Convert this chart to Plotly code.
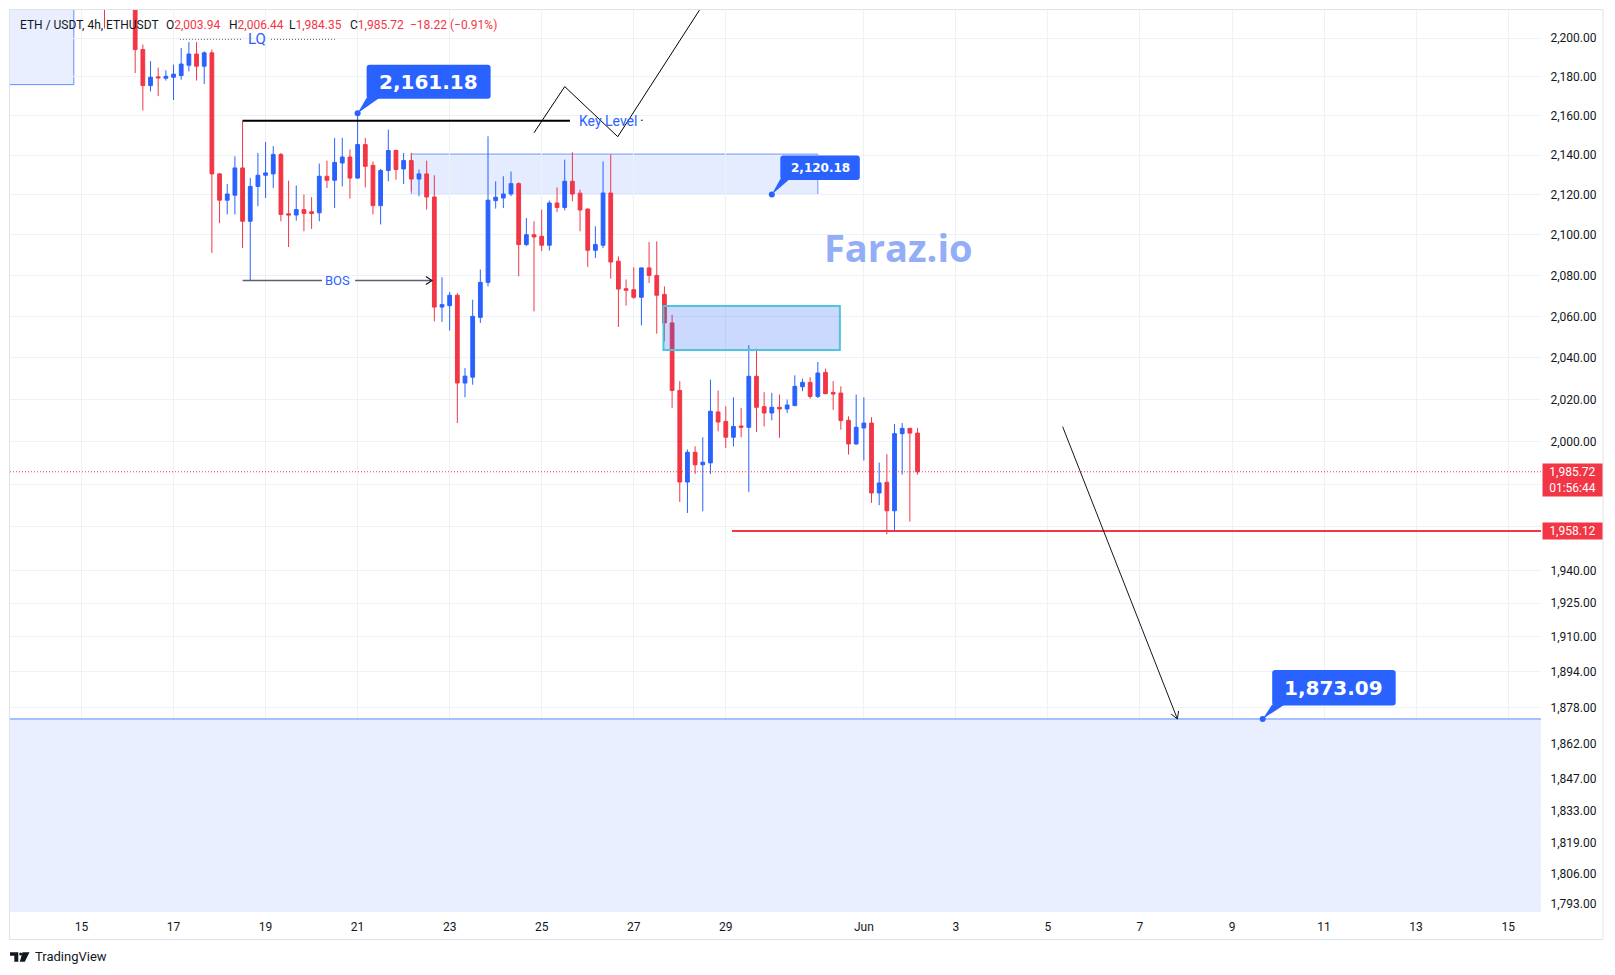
import numpy as np
import pandas as pd
import plotly.graph_objects as go

# ---------------- data ----------------
candle_start = "2023-05-15 12:00"
candle_freq = "4h"
opens = [2232, 2218, 2230, 2238, 2232, 2194.0, 2175.4, 2179.9, 2179.2, 2179.7,
         2180.6, 2185.9, 2191.7, 2185.4, 2192.3, 2130.5, 2117.3, 2119.8, 2133.5, 2106.8,
         2124.2, 2129.8, 2130.5, 2140.3, 2110.5, 2109.9, 2112.6, 2111.5, 2111.0, 2129.3,
         2127.3, 2136.0, 2139.0, 2128.4, 2145.3, 2134.8, 2114.6, 2132.2, 2142.3, 2133.0,
         2137.2, 2127.9, 2130.5, 2118.9, 2064.5, 2065.2, 2070.3, 2027.8, 2030.6, 2059.5,
         2076.6, 2117.1, 2118.4, 2120.4, 2125.6, 2095.2, 2100.1, 2099.3, 2094.9, 2115.9,
         2113.7, 2126.8, 2120.8, 2112.9, 2092.4, 2094.9, 2120.9, 2087.0, 2073.5, 2073.0,
         2069.3, 2083.7, 2080.0, 2070.7, 2056.8, 2024.2, 1980.9, 1994.9, 1989.0, 1989.9,
         2014.0, 2009.5, 2002.0, 2007.3, 2006.7, 2031.0, 2016.5, 2013.5, 2016.2, 2015.4,
         2017.0, 2026.0, 2028.1, 2021.4, 2032.9, 2023.3, 2023.0, 2010.0, 1998.8, 2006.4,
         2008.7, 1975.8, 1980.8, 1967.5, 2003.7, 2006.2, 2003.94]
highs = [2240, 2236, 2245, 2250, 2240, 2196.6, 2188.0, 2184.7, 2183.3, 2186.2,
         2194.8, 2197.9, 2197.9, 2193.1, 2194.0, 2131.0, 2125.4, 2139.4, 2157.4, 2128.4,
         2141.1, 2146.6, 2144.5, 2141.1, 2127.1, 2124.7, 2120.1, 2118.8, 2135.7, 2137.2,
         2148.7, 2148.7, 2142.8, 2161.18, 2148.7, 2136.8, 2133.0, 2152.9, 2142.8, 2141.1,
         2141.1, 2132.7, 2137.2, 2129.8, 2079.1, 2071.9, 2071.3, 2035.0, 2068.1, 2082.9,
         2149.5, 2126.8, 2129.3, 2131.7, 2126.3, 2108.4, 2106.8, 2112.6, 2117.1, 2123.7,
         2137.7, 2141.4, 2122.6, 2113.1, 2104.3, 2136.8, 2140.3, 2089.4, 2078.0, 2084.0,
         2084.0, 2096.5, 2096.8, 2074.6, 2060.8, 2028.7, 1996.2, 1997.7, 2002.0, 2029.4,
         2024.2, 2016.7, 2021.0, 2015.9, 2046.0, 2044.3, 2023.4, 2023.1, 2022.3, 2019.9,
         2031.5, 2029.9, 2030.6, 2037.9, 2034.7, 2028.7, 2026.2, 2011.9, 2022.3, 2021.0,
         2011.5, 1990.0, 1994.0, 2008.3, 2008.7, 2006.4, 2006.44]
lows = [2205, 2216, 2222, 2226, 2181.9, 2162.6, 2172.4, 2170.0, 2178.0, 2168.0,
        2178.4, 2182.7, 2178.0, 2176.2, 2091.1, 2105.8, 2110.2, 2110.2, 2093.5, 2077.5,
        2114.3, 2118.4, 2123.4, 2106.8, 2094.0, 2107.1, 2101.8, 2103.0, 2106.8, 2123.4,
        2113.4, 2124.2, 2118.1, 2128.0, 2123.7, 2110.2, 2105.2, 2126.8, 2127.6, 2125.4,
        2121.7, 2119.3, 2112.6, 2057.6, 2057.3, 2053.1, 2008.7, 2021.0, 2027.0, 2056.8,
        2074.6, 2113.1, 2113.4, 2119.3, 2079.6, 2094.5, 2062.4, 2092.0, 2092.3, 2111.4,
        2112.2, 2116.8, 2101.8, 2084.2, 2088.6, 2093.5, 2078.4, 2054.8, 2065.2, 2068.5,
        2055.6, 2076.3, 2051.6, 2047.9, 2015.9, 1971.6, 1966.5, 1984.7, 1967.3, 1984.7,
        2004.8, 1996.9, 1997.7, 2002.0, 1976.3, 2004.5, 2007.1, 2010.0, 2001.7, 2013.5,
        2016.7, 2023.9, 2020.3, 2020.6, 2022.5, 2015.0, 2005.6, 1993.8, 1998.5, 1991.0,
        1971.2, 1970.1, 1956.6, 1958.6, 1984.4, 1962.5, 1984.35]
closes = [2218, 2230, 2238, 2232, 2194.0, 2175.4, 2179.7, 2179.4, 2180.2, 2181.3,
          2186.5, 2191.7, 2185.4, 2192.3, 2130.5, 2117.3, 2120.4, 2133.5, 2106.8, 2124.2,
          2129.8, 2131.0, 2140.3, 2110.2, 2109.9, 2112.6, 2110.7, 2110.7, 2129.3, 2127.3,
          2136.3, 2139.0, 2128.4, 2145.3, 2134.3, 2114.6, 2132.2, 2142.3, 2132.7, 2137.2,
          2127.9, 2130.5, 2118.9, 2064.5, 2065.7, 2070.3, 2027.8, 2031.1, 2060.0, 2076.6,
          2117.3, 2118.8, 2120.4, 2125.6, 2095.2, 2100.1, 2099.0, 2094.9, 2115.9, 2113.7,
          2126.8, 2120.4, 2112.4, 2092.4, 2095.2, 2120.9, 2086.6, 2073.3, 2072.7, 2069.3,
          2083.7, 2080.0, 2070.3, 2056.8, 2024.2, 1980.9, 1994.9, 1989.0, 1990.2, 2014.3,
          2009.2, 2002.0, 2007.1, 2006.7, 2031.0, 2016.2, 2013.5, 2016.2, 2015.4, 2017.3,
          2026.2, 2028.1, 2021.4, 2032.6, 2022.7, 2022.5, 2009.9, 1998.8, 2006.7, 2008.7,
          1975.8, 1980.5, 1967.5, 2003.7, 2006.2, 2003.94, 1985.72]

x_tick_dates = ["2023-05-15", "2023-05-17", "2023-05-19", "2023-05-21", "2023-05-23",
                "2023-05-25", "2023-05-27", "2023-05-29", "2023-06-01", "2023-06-03",
                "2023-06-05", "2023-06-07", "2023-06-09", "2023-06-11", "2023-06-13",
                "2023-06-15"]
x_tick_text = ["15", "17", "19", "21", "23", "25", "27", "29", "Jun", "3", "5", "7",
               "9", "11", "13", "15"]
y_tick_values = [2200, 2180, 2160, 2140, 2120, 2100, 2080, 2060, 2040, 2020, 2000,
                 1980, 1960, 1940, 1925, 1910, 1894, 1878, 1862, 1847, 1833, 1819,
                 1806, 1793]
# ticks whose labels sit under the price tags on the axis
y_ticks_hidden = [1980, 1960]

header_symbol = "ETH / USDT, 4h, ETHUSDT"
header_ohlc = [("O", "2,003.94"), ("H", "2,006.44"), ("L", "1,984.35"), ("C", "1,985.72")]
header_change = "\u221218.22 (\u22120.91%)"

last_price = 1985.72
countdown = "01:56:44"
support_level = 1958.12
key_level = 2157.4
bos_level = 2077.5
lq_level = 2199.3
high_note = 2161.18
zone_note = 2120.18
target_note = 1873.09
zone1_low, zone1_high = 2120.18, 2140.5
zone2_low, zone2_high = 2043.7, 2065.0
top_zone_low = 2175.9
arrow_start_price = 2007.0
zigzag_prices = [2151.3, 2174.9, 2149.3, 2214.5]
zigzag_times = ["2023-05-24 20:00", "2023-05-25 12:00", "2023-05-26 15:40", "2023-05-28 10:15"]
note_times = ["2023-05-21 00:00", "2023-05-30 00:00", "2023-06-09 16:00"]
note_prices = [high_note, zone_note, target_note]

# ---------------- styling ----------------
UP = "#2962ff"
DOWN = "#f23645"
BLUE = "#2962ff"
TXT = "#131722"
GRID = "#eef1f6"
FONT = "Roboto"

PX_L, PX_R, PX_T, PX_B = 10, 1541, 10, 912


def pxx(px):
    return (px - PX_L) / (PX_R - PX_L)


def pxy(py):
    return (PX_B - py) / (PX_B - PX_T)


times = pd.date_range(candle_start, periods=len(opens), freq=candle_freq)

fig = go.Figure()
fig.add_trace(go.Candlestick(
    x=times, open=opens, high=highs, low=lows, close=closes,
    increasing=dict(line=dict(color=UP, width=1), fillcolor=UP),
    decreasing=dict(line=dict(color=DOWN, width=1), fillcolor=DOWN),
    whiskerwidth=0, showlegend=False, hoverinfo="skip",
))
# anchor dots of the price notes
fig.add_trace(go.Scatter(
    x=note_times, y=note_prices, mode="markers", hoverinfo="skip", showlegend=False,
    marker=dict(size=6, color=BLUE, line=dict(width=0)), cliponaxis=False,
))

shapes = []
annotations = []


def hline(x0, x1, y, color, width=1, dash="solid", xref="x"):
    shapes.append(dict(type="line", xref=xref, yref="y", x0=x0, x1=x1, y0=y, y1=y,
                       line=dict(color=color, width=width, dash=dash), layer="above"))


def seg(x0, y0, x1, y1, color, width=1):
    shapes.append(dict(type="line", xref="x", yref="y", x0=x0, x1=x1, y0=y0, y1=y1,
                       line=dict(color=color, width=width), layer="above"))


def pix_path(xa, ya, path, color=None, fill=None, width=1):
    d = dict(type="path", xref="x", yref="y", xsizemode="pixel", ysizemode="pixel",
             xanchor=xa, yanchor=ya, path=path, layer="above",
             line=dict(color=color or "rgba(0,0,0,0)", width=width if color else 0))
    if fill:
        d["fillcolor"] = fill
    shapes.append(d)


def text(x, price, s, size, color, xanchor="center", bold=False, family=FONT,
         xshift=0, yshift=0):
    annotations.append(dict(x=x, y=np.log10(price), xref="x", yref="y", text=s,
                            showarrow=False, xanchor=xanchor, yanchor="middle",
                            xshift=xshift, yshift=yshift,
                            font=dict(family=family, size=size, color=color,
                                      weight="bold" if bold else "normal")))


# zones
shapes.append(dict(type="rect", xref="x", yref="y", x0="2023-05-12", x1="2023-05-14 20:00",
                   y0=top_zone_low, y1=2300, fillcolor="rgba(41,98,255,0.10)",
                   line=dict(color="rgba(41,98,255,0.7)", width=1), layer="below"))
shapes.append(dict(type="rect", xref="x", yref="y", x0="2023-05-22 04:00", x1="2023-05-31 00:00",
                   y0=zone1_low, y1=zone1_high, fillcolor="rgba(41,98,255,0.12)",
                   line=dict(color="rgba(41,98,255,0.65)", width=1), layer="below"))
shapes.append(dict(type="rect", xref="x", yref="y", x0="2023-05-27 15:30", x1="2023-05-31 11:30",
                   y0=zone2_low, y1=zone2_high, fillcolor="rgba(41,98,255,0.24)",
                   line=dict(color="#50c4d8", width=2), layer="above"))
shapes.append(dict(type="rect", xref="paper", yref="y", x0=0, x1=1, y0=1700, y1=target_note,
                   fillcolor="rgba(41,98,255,0.10)", line=dict(width=0), layer="below"))
hline(0, 1, target_note, "rgba(41,98,255,0.75)", 1, xref="paper")

# price lines
hline(0, 1, last_price, DOWN, 1, dash="1px,2px", xref="paper")
hline("2023-05-29 03:15", "2023-06-30", support_level, DOWN, 2)

# key level
hline("2023-05-18 12:00", "2023-05-25 14:45", key_level, "#000000", 2)
text("2023-05-25 18:15", key_level, "Key Level", 14, BLUE, xanchor="left")
text("2023-05-27 04:10", key_level, "\u00b7", 14, TXT)

# zigzag
for i in range(len(zigzag_prices) - 1):
    seg(zigzag_times[i], zigzag_prices[i], zigzag_times[i + 1], zigzag_prices[i + 1], "#000000", 1)

# LQ
hline("2023-05-17 03:20", "2023-05-18 12:10", lq_level, "#5d606b", 1, dash="1px,2px")
hline("2023-05-19 02:50", "2023-05-20 12:10", lq_level, "#5d606b", 1, dash="1px,2px")
text("2023-05-18 19:30", lq_level, "LQ", 15, BLUE)

# BOS
hline("2023-05-18 12:00", "2023-05-20 05:25", bos_level, "#5d606b", 1.3)
hline("2023-05-20 22:40", "2023-05-22 14:45", bos_level, "#5d606b", 1.3)
pix_path("2023-05-22 14:45", bos_level, "M-6,4 L0,0 L-6,-4", color="#131722", width=1.2)
text("2023-05-20 13:45", bos_level, "BOS", 13, BLUE)

# projection arrow
seg("2023-06-05 07:40", arrow_start_price, "2023-06-07 19:30", target_note, "#131722", 1)
pix_path("2023-06-07 19:30", target_note, "M1.2,8 L0,0 L-6.3,5", color="#131722", width=1)


# callouts
def rrect(x0, x1, y0, y1, r):
    return (f"M{x0 + r},{y0} L{x1 - r},{y0} Q{x1},{y0} {x1},{y0 + r} L{x1},{y1 - r} "
            f"Q{x1},{y1} {x1 - r},{y1} L{x0 + r},{y1} Q{x0},{y1} {x0},{y1 - r} "
            f"L{x0},{y0 + r} Q{x0},{y0} {x0 + r},{y0} Z")


callout_boxes = [((9, 133, 14.5, 48.5), (9, 22), 20),
                 ((8.5, 88, 14.5, 39), (8.5, 18), 12),
                 ((9.5, 133, 13.5, 49), (9.5, 22), 20)]
for xa, price, ((bx0, bx1, by0, by1), (tx0, tx1), fs) in zip(note_times, note_prices, callout_boxes):
    pix_path(xa, price, rrect(bx0, bx1, by0, by1, 3), fill=BLUE)
    pix_path(xa, price, f"M0,0 L{tx0},{by0 + 1} L{tx1},{by0 + 1} Z", fill=BLUE)
    text(xa, price, f"{price:,.2f}", fs, "white", bold=True, family="DejaVu Sans",
         xshift=(bx0 + bx1) / 2, yshift=(by0 + by1) / 2)

# watermark
text("2023-06-01 17:50", 2094.0, "Faraz.io", 38, "#93adf7", bold=True, family="Open Sans")

# axis price labels
annotations.append(dict(xref="paper", yref="y", x=1, y=np.log10(last_price), xanchor="left",
                        yanchor="top", yshift=8.5, xshift=0.5,
                        text=f"{last_price:,.2f}<br>{countdown}", showarrow=False,
                        bgcolor=DOWN, width=55, height=28, borderpad=2, align="center",
                        font=dict(family=FONT, size=12, color="white")))
annotations.append(dict(xref="paper", yref="y", x=1, y=np.log10(support_level), xanchor="left",
                        yanchor="middle", xshift=0.5,
                        text=f"{support_level:,.2f}", showarrow=False,
                        bgcolor=DOWN, width=55, height=12, borderpad=2, align="center",
                        font=dict(family=FONT, size=12, color="white")))

# header
header_y = pxy(25)
annotations.append(dict(xref="paper", yref="paper", x=pxx(18), y=header_y, xanchor="left",
                        yanchor="middle", text=header_symbol, showarrow=False,
                        font=dict(family=FONT, size=12, color=TXT)))
for (lab, val), px in zip(header_ohlc, [164.3, 226.7, 287.3, 347.7]):
    annotations.append(dict(xref="paper", yref="paper", x=pxx(px), y=header_y, xanchor="left",
                            yanchor="middle", showarrow=False,
                            text=f"{lab}<span style='color:{DOWN}'>{val}</span>",
                            font=dict(family=FONT, size=12, color=TXT)))
annotations.append(dict(xref="paper", yref="paper", x=pxx(408.3), y=header_y, xanchor="left",
                        yanchor="middle", showarrow=False, text=header_change,
                        font=dict(family=FONT, size=12, color=DOWN)))

# footer logo
annotations.append(dict(xref="paper", yref="paper", x=pxx(32.5), y=pxy(957), xanchor="left",
                        yanchor="middle", showarrow=False, text="TradingView",
                        font=dict(family=FONT, size=13, color=TXT)))


def ppath(pts):
    return "M" + " L".join(f"{pxx(a)},{pxy(b)}" for a, b in pts) + " Z"


for pts in ([(10, 952.3), (18.3, 952.3), (18.3, 961.7), (14.3, 961.7), (14.3, 955.8), (10, 955.8)],
            [(22.5, 952.3), (29.5, 952.3), (24.8, 961.7), (19.8, 961.7)]):
    shapes.append(dict(type="path", xref="paper", yref="paper", path=ppath(pts),
                       fillcolor=TXT, line=dict(width=0)))
shapes.append(dict(type="circle", xref="paper", yref="paper", x0=pxx(19.2), x1=pxx(22.2),
                   y0=pxy(955.5), y1=pxy(952.5), fillcolor=TXT, line=dict(width=0)))

# widget frame
shapes.append(dict(type="rect", xref="paper", yref="paper", x0=pxx(9.5), x1=pxx(1603),
                   y0=pxy(939.5), y1=pxy(9.5), line=dict(color="#e0e3eb", width=1),
                   fillcolor="rgba(0,0,0,0)"))

fig.update_layout(
    width=1615, height=975, autosize=False,
    margin=dict(l=PX_L, r=1615 - PX_R, t=PX_T, b=975 - PX_B),
    paper_bgcolor="white", plot_bgcolor="white",
    showlegend=False, hovermode=False,
    shapes=shapes, annotations=annotations,
    xaxis=dict(type="date", range=["2023-05-13 10:43", "2023-06-15 17:08"],
               rangeslider=dict(visible=False), tickvals=x_tick_dates, ticktext=x_tick_text,
               showgrid=True, gridcolor=GRID, gridwidth=1, zeroline=False, showline=False,
               ticks="outside", ticklen=4, tickcolor="rgba(0,0,0,0)",
               tickfont=dict(family=FONT, size=12, color=TXT), fixedrange=True),
    yaxis=dict(type="log", side="right", range=[3.252753, 3.345296],
               tickvals=y_tick_values,
               ticktext=["" if v in y_ticks_hidden else f"{v:,.2f}" for v in y_tick_values],
               showgrid=True, gridcolor=GRID, gridwidth=1, zeroline=False, showline=False,
               ticks="outside", ticklen=6, tickcolor="rgba(0,0,0,0)",
               tickfont=dict(family=FONT, size=12, color=TXT), fixedrange=True),
)

fig.write_html("out.html")
